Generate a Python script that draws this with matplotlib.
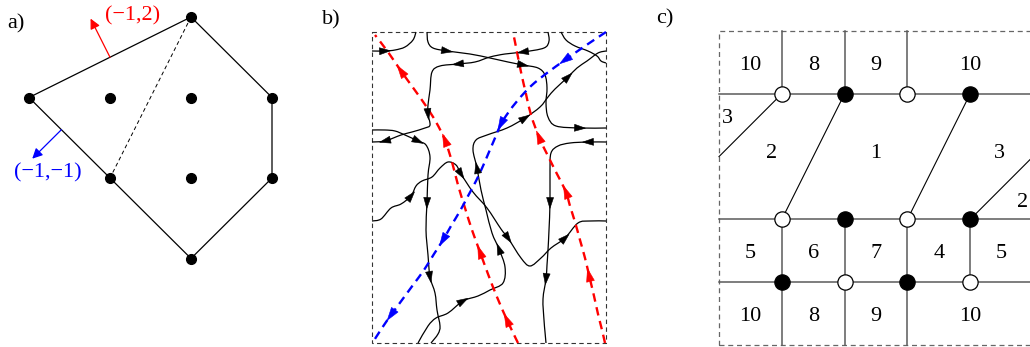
import numpy as np
import matplotlib
matplotlib.use("Agg")
import matplotlib.pyplot as plt
from matplotlib.path import Path
from matplotlib.patches import PathPatch, Polygon, Rectangle

plt.rcParams['font.family'] = ['Liberation Serif', 'DejaVu Serif']

W, H = 1030, 347

# ---------- panel a: toric diagram, lattice coordinates
poly_a = [(-1, 1), (1, 2), (2, 1), (2, 0), (1, -1), (0, 0)]
inner_a = [(0, 1), (1, 1), (1, 0)]
diag_a = [(1, 2), (0, 0)]
normal_red = (-1, 2)
normal_blue = (-1, -1)
foot_red = (0, 1.5)
foot_blue = (-0.6, 0.6)
label_red = "(\u22121,2)"
label_blue = "(\u22121,\u22121)"

# ---------- panel b: zig-zag paths on the torus (pixel coords of the box)
box_b = (372, 32, 606, 343)
curve_I = [(372, 51), (385, 51), (395, 50), (405, 47), (413, 40), (416, 32)]
curve_B = [(427, 32), (428, 42), (433, 48), (447, 51), (470, 54), (490, 58), (508, 62),
           (523, 65), (538, 68), (545, 75), (547, 88), (546, 103), (548, 117), (556, 126),
           (580, 128), (606, 128)]
curve_C = [(548, 32), (549, 41), (544, 48), (523, 52), (505, 54), (490, 57), (475, 62),
           (458, 64), (440, 66), (432, 72), (430, 90), (428, 105), (428, 114), (430, 125),
           (425, 128), (412, 132), (401, 135), (385, 141), (372, 142)]
curve_D = [(372, 130), (385, 130), (395, 131), (405, 135), (418, 141), (426, 145), (430, 157),
           (428, 175), (427, 203), (426, 230), (428, 255), (430, 277), (435, 293), (437, 310),
           (440, 326), (438, 334), (431, 343)]
curve_E = [(418, 343), (428, 326), (436, 318), (448, 313), (463, 301), (478, 296), (490, 290),
           (503, 283), (505, 267), (499, 249), (492, 233), (486, 210), (481, 190), (477, 168),
           (473, 150), (476, 140), (487, 135), (507, 128), (525, 118), (540, 107), (548, 97),
           (555, 89), (568, 77), (577, 68), (587, 61), (598, 53), (606, 51)]
curve_F = [(561, 32), (566, 40), (575, 46), (588, 51), (597, 56), (601, 61), (606, 63)]
curve_G = [(372, 221), (381, 219), (391, 208), (401, 204), (411, 196), (416, 186), (422, 181),
           (432, 177), (440, 168), (448, 162), (456, 165), (461, 174), (473, 192), (487, 208),
           (501, 229), (508, 238), (521, 258), (530, 266), (541, 258), (551, 248), (565, 238),
           (578, 223), (590, 221), (606, 221)]
curve_H = [(606, 142), (588, 142), (570, 143), (558, 146), (551, 153), (550, 170), (550, 203),
           (549, 230), (548, 250), (547, 265), (546, 279), (543, 299), (544, 320), (545, 332),
           (546, 343)]
arrows_I = [1]
arrows_B = [3, 7, 14]
arrows_C = [3, 7, 12, 17]
arrows_D = [4, 8, 11]
arrows_E = [4, 9, 13, 18, 22]
arrows_F = []
arrows_G = [4, 11, 15, 20]
arrows_H = [1, 6, 10]

red_1 = [(518, 343), (507, 320), (497, 297), (488, 274), (480, 252), (472, 230), (465, 208),
         (458, 185), (452, 162), (445, 140), (436, 122), (426, 106), (414, 89), (401, 71),
         (388, 52), (375, 35)]
red_2 = [(605, 343), (602, 330), (598, 314), (594, 296), (589, 275), (585, 258), (580, 240),
         (575, 222), (570, 206), (566, 192), (557, 174), (548, 156), (539, 137), (531, 115),
         (526, 94), (521, 72), (517, 52), (513, 32)]
blue_1 = [(606, 32), (585, 46), (565, 60), (547, 73), (531, 86), (518, 100), (508, 113),
          (501, 124), (495, 138), (489, 152), (483, 166), (476, 181), (468, 196), (460, 211),
          (451, 226), (443, 240), (434, 254), (424, 270), (413, 285), (402, 300), (391, 315),
          (382, 328), (373, 342)]
arrows_red_1 = [1, 4, 9, 13]
arrows_red_2 = [4, 9, 12]
arrows_blue_1 = [2, 7, 15, 20]

# ---------- panel c: brane tiling, cell units
c_hlines = [4, 2, 1]
c_vsegs = [(1, 4, 5), (2, 4, 5), (3, 4, 5), (1, 1, 2), (2, 1, 2), (3, 1, 2), (4, 1, 2),
           (1, 0, 1), (2, 0, 1), (3, 0, 1)]
c_diags = [((1, 4), (0, 3)), ((2, 4), (1, 2)), ((4, 4), (3, 2)), ((4, 2), (5, 3))]
c_white = [(1, 4), (3, 4), (1, 2), (3, 2), (2, 1), (4, 1)]
c_black = [(2, 4), (4, 4), (2, 2), (4, 2), (1, 1), (3, 1)]
c_faces = ["10", "8", "9", "10", "3", "2", "1", "3", "2",
           "5", "6", "7", "4", "5", "10", "8", "9", "10"]
c_face_x = [0.5, 1.5, 2.5, 4.0, 0.14, 0.84, 2.5, 4.47, 4.84,
            0.5, 1.5, 2.5, 3.5, 4.5, 0.5, 1.5, 2.5, 4.0]
c_face_y = [4.45, 4.45, 4.45, 4.45, 3.6, 3.05, 3.05, 3.05, 2.27,
            1.45, 1.45, 1.45, 1.45, 1.45, 0.45, 0.45, 0.45, 0.45]


def add_panel(fig, px0, px1, py0, py1, xlim, ylim):
    ax = fig.add_axes([px0 / W, 1 - py1 / H, (px1 - px0) / W, (py1 - py0) / H])
    ax.set_xlim(xlim)
    ax.set_ylim(ylim)
    ax.axis('off')
    return ax


def smooth_path(pts):
    # Catmull-Rom through the points, as cubic Bezier segments
    p = np.asarray(pts, float)
    ext = np.vstack([p[0], p, p[-1]])
    verts = [p[0]]
    codes = [Path.MOVETO]
    for i in range(len(p) - 1):
        p0, p1, p2, p3 = ext[i], ext[i + 1], ext[i + 2], ext[i + 3]
        verts += [p1 + (p2 - p0) / 6, p2 - (p3 - p1) / 6, p2]
        codes += [Path.CURVE4] * 3
    return Path(verts, codes)


def arrowhead(ax, pts, i, color, length, width):
    p = np.asarray(pts, float)
    d = p[min(i + 1, len(p) - 1)] - p[max(i - 1, 0)]
    d = d / np.hypot(*d)
    n = np.array([-d[1], d[0]])
    tip = p[i] + d * length * 0.5
    base = p[i] - d * length * 0.5
    tri = [tip, base + n * width / 2, base - n * width / 2]
    ax.add_patch(Polygon(tri, closed=True, fc=color, ec=color, lw=0.4, zorder=6))


fig = plt.figure(figsize=(W / 100, H / 100), dpi=100)

# ===== panel a
sx, sy, ox, oy = 81.0, 80.5, 110.0, 178.0
ax_a = add_panel(fig, 0, 330, 0, 300, ((0 - ox) / sx, (330 - ox) / sx), ((oy - 300) / sy, oy / sy))
px = [v[0] for v in poly_a] + [poly_a[0][0]]
py = [v[1] for v in poly_a] + [poly_a[0][1]]
ax_a.plot(px, py, color='black', lw=0.9)
ax_a.plot([diag_a[0][0], diag_a[1][0]], [diag_a[0][1], diag_a[1][1]],
          color='black', lw=0.7, dashes=(4, 3))
allp = poly_a + inner_a
ax_a.plot([v[0] for v in allp], [v[1] for v in allp], 'o', color='black', ms=7, zorder=4)
for foot, nrm, k, col in [(foot_red, normal_red, 0.24, 'red'), (foot_blue, normal_blue, 0.36, 'blue')]:
    ax_a.annotate('', xy=(foot[0] + k * nrm[0], foot[1] + k * nrm[1]), xytext=foot,
                  arrowprops=dict(arrowstyle='-|>', color=col, lw=0.9, mutation_scale=15,
                                  shrinkA=0, shrinkB=0))
ax_a.text(0.28, 2.02, label_red, color='red', fontsize=16, ha='center', va='center')
ax_a.text(-0.77, 0.06, label_blue, color='blue', fontsize=16, ha='center', va='center')

# ===== panel b
ax_b = add_panel(fig, 330, 650, 0, 347, (330, 650), (347, 0))
x0, y0, x1, y1 = box_b
ax_b.add_patch(Rectangle((x0, y0), x1 - x0, y1 - y0, fill=False, ec='#333333', lw=0.8,
                         ls=(0, (4, 3))))
black_curves = [(curve_I, arrows_I), (curve_B, arrows_B), (curve_C, arrows_C),
                (curve_D, arrows_D), (curve_E, arrows_E), (curve_F, arrows_F),
                (curve_G, arrows_G), (curve_H, arrows_H)]
for pts, arr in black_curves:
    ax_b.add_patch(PathPatch(smooth_path(pts), fill=False, ec='black', lw=0.9, zorder=3))
    for i in arr:
        arrowhead(ax_b, pts, i, 'black', 11, 7)
for pts, arr, col in [(red_1, arrows_red_1, 'red'), (red_2, arrows_red_2, 'red'),
                      (blue_1, arrows_blue_1, 'blue')]:
    ax_b.add_patch(PathPatch(smooth_path(pts), fill=False, ec=col, lw=1.7,
                             ls=(0, (3.6, 2.4)), zorder=4))
    for i in arr:
        arrowhead(ax_b, pts, i, col, 13, 8)

# ===== panel c
cs, cx0, cy0 = 62.8, 719.0, 345.0
ax_c = add_panel(fig, 650, 1030, 0, 347, ((650 - cx0) / cs, (1030 - cx0) / cs),
                 ((cy0 - 347) / cs, cy0 / cs))
ax_c.add_patch(Rectangle((0, 0), 5, 5, fill=False, ec='#666666', lw=0.9, ls=(0, (4, 3))))
for yy in c_hlines:
    ax_c.plot([0, 5], [yy, yy], color='#5a5a5a', lw=1.1, zorder=2)
for xx, ya, yb in c_vsegs:
    ax_c.plot([xx, xx], [ya, yb], color='#5a5a5a', lw=1.1, zorder=2)
for a, b in c_diags:
    ax_c.plot([a[0], b[0]], [a[1], b[1]], color='black', lw=0.8, zorder=2)
ax_c.plot([p[0] for p in c_white], [p[1] for p in c_white], 'o', ms=11, mfc='white',
          mec='black', mew=0.9, zorder=5)
ax_c.plot([p[0] for p in c_black], [p[1] for p in c_black], 'o', ms=11, mfc='black',
          mec='black', mew=0.9, zorder=5)
for t, xx, yy in zip(c_faces, c_face_x, c_face_y):
    ax_c.text(xx, yy, t, fontsize=16, ha='center', va='center')

# panel letters
for t, xx, yy in [("a)", 16, 24), ("b)", 331, 20), ("c)", 665, 19)]:
    fig.text(xx / W, 1 - yy / H, t, fontsize=16, ha='center', va='center')

fig.savefig("out.png", dpi=100)
